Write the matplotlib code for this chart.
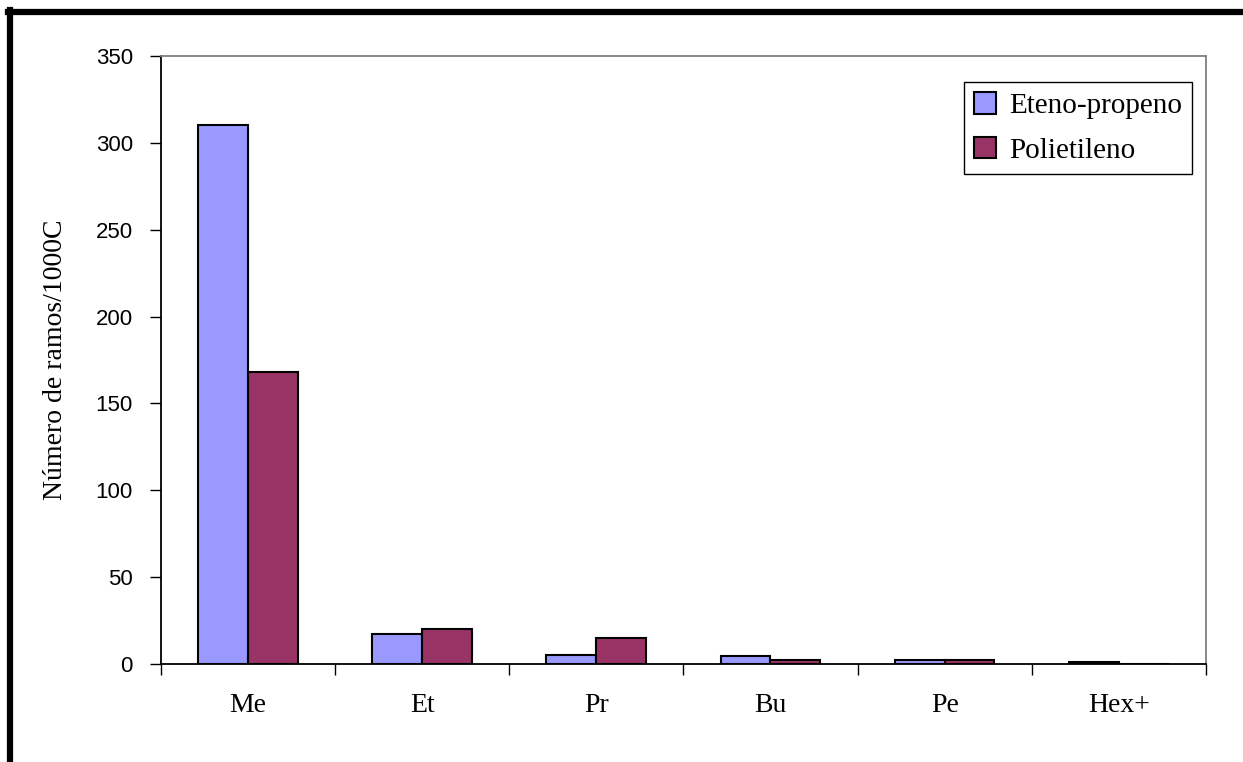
import numpy as np
import matplotlib.pyplot as plt
from matplotlib.lines import Line2D
from matplotlib.patches import Patch

# data
categories = ["Me", "Et", "Pr", "Bu", "Pe", "Hex+"]
eteno_propeno = [310, 17, 5, 4.5, 2.5, 1]
polietileno = [168, 20, 15, 2.5, 2.5, 0]
yticks = [0, 50, 100, 150, 200, 250, 300, 350]

blue = "#9999FF"
red = "#993366"

fig = plt.figure(figsize=(12.43, 7.62), dpi=100)
ax = fig.add_axes([160.7 / 1243, 98 / 762, 1045.3 / 1243, 608 / 762])

x = np.arange(len(categories))
w = 1 / 3.5
ax.bar(x - w / 2, eteno_propeno, w, color=blue, edgecolor="black", linewidth=1.5, label="Eteno-propeno")
ax.bar(x + w / 2, polietileno, w, color=red, edgecolor="black", linewidth=1.5, label="Polietileno")

ax.set_xlim(-0.5, len(categories) - 0.5)
ax.set_ylim(0, 350)
ax.set_yticks(yticks)
ax.set_yticklabels([str(v) for v in yticks], family="Liberation Sans", fontsize=16)

# category labels between boundary ticks
ax.set_xticks(np.arange(len(categories) + 1) - 0.5)
ax.set_xticklabels([])
ax.set_xticks(x, minor=True)
ax.set_xticklabels(categories, minor=True, family="Liberation Serif", fontsize=20)
ax.tick_params(axis="x", which="minor", length=0, pad=21)
ax.tick_params(axis="x", which="major", direction="out", length=8, width=1)
ax.tick_params(axis="y", direction="out", length=8, width=1, pad=12)

ax.spines["left"].set_color("black")
ax.spines["bottom"].set_color("black")
ax.spines["top"].set_color("#808080")
ax.spines["right"].set_color("#808080")
for s in ax.spines.values():
    s.set_linewidth(1.3)

ax.set_ylabel("Número de ramos/1000C", family="Liberation Serif", fontsize=20, labelpad=20)

handles = [Patch(facecolor=blue, edgecolor="black", linewidth=1.5),
           Patch(facecolor=red, edgecolor="black", linewidth=1.5)]
leg = ax.legend(handles, ["Eteno-propeno", "Polietileno"], loc="upper right",
                bbox_to_anchor=(0.987, 0.957), fancybox=False, framealpha=1,
                prop={"family": "Liberation Serif", "size": 21},
                handlelength=0.75, handleheight=0.75, handletextpad=0.45,
                borderpad=0.35, labelspacing=0.6, borderaxespad=0)
leg.get_frame().set_edgecolor("black")
leg.get_frame().set_linewidth(1)

# thick outer border (only top and left are visible in the frame)
fig.add_artist(Line2D([8 / 1243, 1.0], [1 - 12 / 762, 1 - 12 / 762], color="black", linewidth=4.5, transform=fig.transFigure))
fig.add_artist(Line2D([10 / 1243, 10 / 1243], [0, 1 - 10 / 762], color="black", linewidth=4.5, transform=fig.transFigure))

fig.savefig("out.png", dpi=100)
